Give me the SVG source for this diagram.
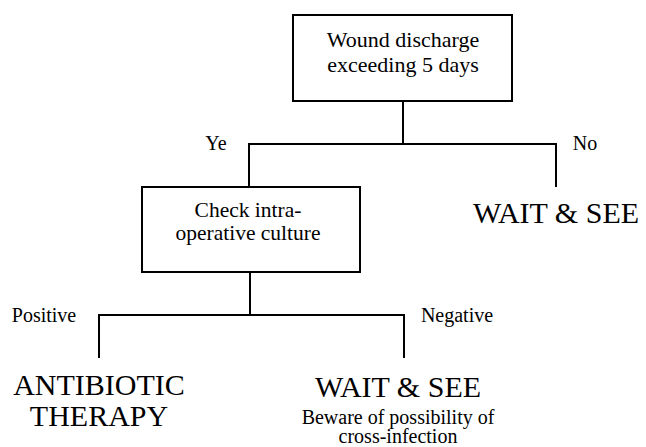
<svg xmlns="http://www.w3.org/2000/svg" width="646" height="447" viewBox="0 0 646 447">
<style>
text{font-family:"Liberation Serif","Times New Roman",serif;fill:#000;text-anchor:middle}
.box{fill:#fff;stroke:#000;stroke-width:2}
.ln{fill:none;stroke:#000;stroke-width:2}
.bt{font-size:22px}
.bt2{font-size:21.5px}
.lb{font-size:20px}
.big{font-size:30px}
</style>
<rect width="646" height="447" fill="#fff"/>
<g id="connectors">
<path class="ln" d="M403,101 V144 M249,187 V144 H556 V187"/>
<path class="ln" d="M250,272 V315 M99,358 V315 H404 V358"/>
</g>
<g id="n1">
<rect class="box" x="293" y="15" width="219" height="86"/>
<text class="bt" x="403" y="47">Wound discharge</text>
<text class="bt" x="403" y="72">exceeding 5 days</text>
</g>
<g id="n2">
<rect class="box" x="142" y="187" width="218" height="85"/>
<text class="bt2" x="248" y="217">Check intra-</text>
<text class="bt2" x="248" y="240">operative culture</text>
</g>
<g id="labels">
<text class="lb" x="216" y="150">Ye</text>
<text class="lb" x="585" y="150">No</text>
<text class="lb" x="44" y="322">Positive</text>
<text class="lb" x="457" y="322">Negative</text>
</g>
<g id="n3">
<text class="big" x="556" y="223">WAIT &amp; SEE</text>
</g>
<g id="n4">
<text class="big" x="99" y="395">ANTIBIOTIC</text>
<text class="big" x="99" y="426">THERAPY</text>
</g>
<g id="n5">
<text class="big" x="398" y="397">WAIT &amp; SEE</text>
<text class="lb" x="398" y="424">Beware of possibility of</text>
<text class="lb" x="398" y="443">cross-infection</text>
</g>
</svg>
